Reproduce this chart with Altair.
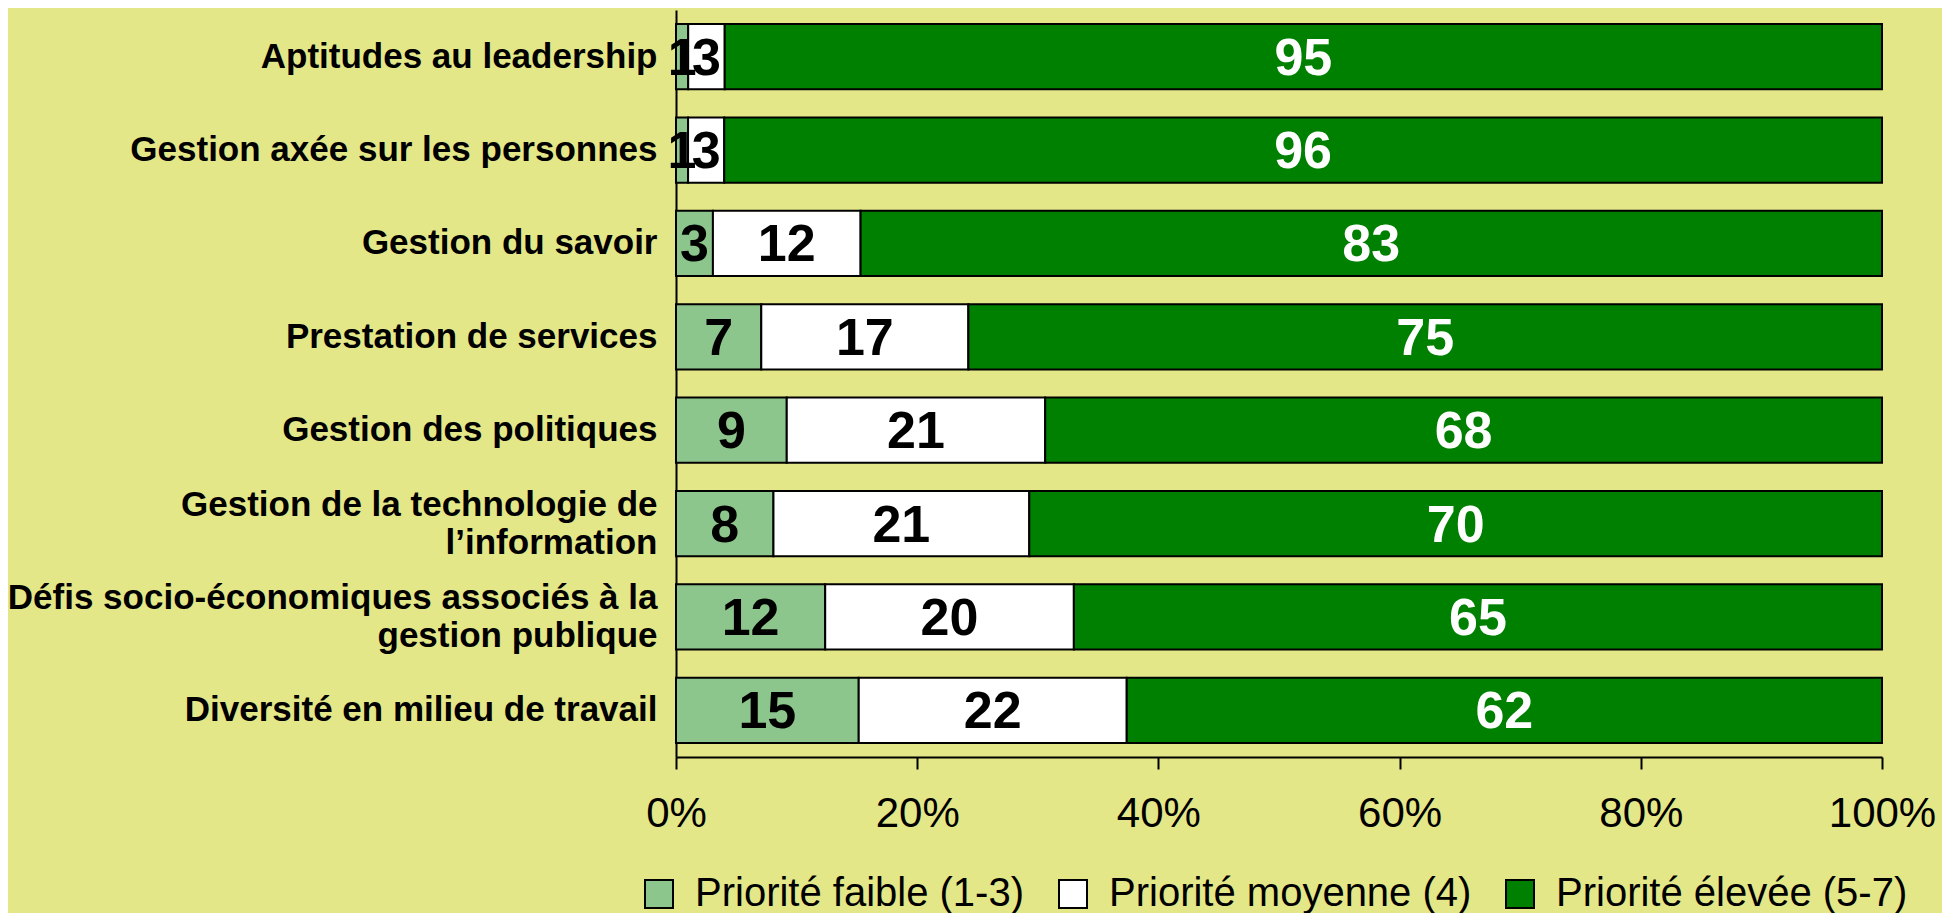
import altair as alt
import pandas as pd

categories = [
    "Aptitudes au leadership",
    "Gestion axée sur les personnes",
    "Gestion du savoir",
    "Prestation de services",
    "Gestion des politiques",
    "Gestion de la technologie de|l’information",
    "Défis socio-économiques associés à la|gestion publique",
    "Diversité en milieu de travail",
]
levels = ["Priorité faible (1-3)", "Priorité moyenne (4)", "Priorité élevée (5-7)"]
faible = [1, 1, 3, 7, 9, 8, 12, 15]
moyenne = [3, 3, 12, 17, 21, 21, 20, 22]
elevee = [95, 96, 83, 75, 68, 70, 65, 62]

rows = []
for i, c in enumerate(categories):
    for j, (lvl, vals) in enumerate(zip(levels, [faible, moyenne, elevee])):
        rows.append({"cat": c, "level": lvl, "order": j, "value": vals[i]})
df = pd.DataFrame(rows)

FONT = "Liberation Sans"
colors = ["#8cc68c", "#ffffff", "#008000"]

base = alt.Chart(df).transform_stack(
    stack="value", groupby=["cat"], as_=["x0", "x1"], offset="normalize",
    sort=[alt.SortField("order", order="ascending")]
).transform_calculate(mid="(datum.x0 + datum.x1) / 2")

y_enc = alt.Y(
    "cat:N", sort=categories, title=None,
    scale=alt.Scale(paddingInner=0.3, paddingOuter=0.15),
    axis=alt.Axis(
        labelExpr="split(datum.label, '|')", labelFont=FONT, labelFontSize=35,
        labelFontWeight="bold", labelColor="black", labelPadding=19, ticks=False,
        labelLineHeight=38, labelLimit=800, domainColor="black", domainWidth=2,
        labelOffset={"condition": {"test": "indexof(datum.value, '|') >= 0", "value": -19}, "value": 0},
    ),
)

bars = base.mark_bar(stroke="black", strokeWidth=2).encode(
    x=alt.X(
        "x0:Q", title=None, scale=alt.Scale(domain=[0, 1]),
        axis=alt.Axis(
            format="%", values=[0, 0.2, 0.4, 0.6, 0.8, 1.0], grid=False,
            labelFont=FONT, labelFontSize=42, labelColor="black", labelFlush=False,
            tickSize=12, tickColor="black", tickWidth=2, labelPadding=24,
            domainColor="black", domainWidth=2,
        ),
    ),
    x2="x1:Q",
    y=y_enc,
    color=alt.Color(
        "level:N", sort=levels,
        scale=alt.Scale(domain=levels, range=colors),
        legend=alt.Legend(
            title=None, orient="none", direction="horizontal", legendX=-37, legendY=864,
            labelFont=FONT, labelFontSize=40, labelColor="black", labelLimit=600,
            symbolType="square", symbolSize=784, symbolStrokeColor="black",
            symbolStrokeWidth=2, labelOffset=16, columnPadding=28, padding=0,
        ),
    ),
)

texts = base.mark_text(font=FONT, fontSize=52, fontWeight="bold", baseline="middle", dy=2).encode(
    x="mid:Q",
    y=alt.Y("cat:N", sort=categories),
    text="value:Q",
    color=alt.condition(
        alt.datum.order == 2, alt.value("white"), alt.value("black")
    ),
)

chart = alt.layer(bars, texts).properties(
    width=1206, height=747,
    autosize=alt.AutoSizeParams(type="none"),
    padding={"left": 668, "top": 2, "right": 60, "bottom": 156},
    background="#e3e787",
).configure_view(stroke=None)

chart.save("out.html", embed_options={"renderer": "svg", "actions": False})
